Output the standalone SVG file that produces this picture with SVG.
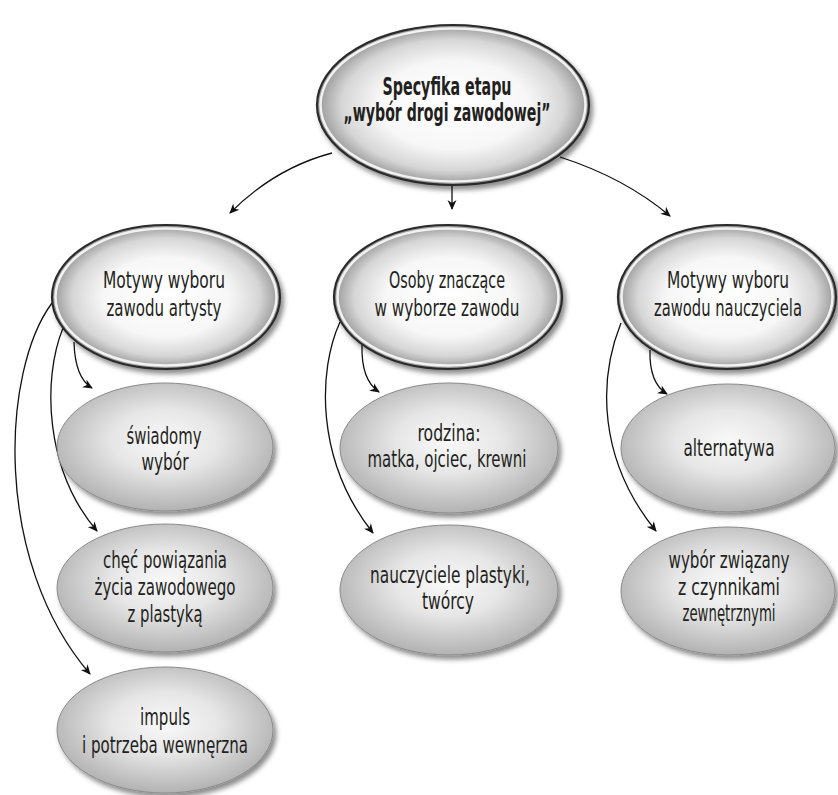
<svg xmlns="http://www.w3.org/2000/svg" width="838" height="795" viewBox="0 0 838 795">
<defs>
  <radialGradient id="g1" cx="50%" cy="50%" r="50%">
    <stop offset="0%" stop-color="#ffffff"/>
    <stop offset="55%" stop-color="#f7f7f7"/>
    <stop offset="82%" stop-color="#d6d6d6"/>
    <stop offset="100%" stop-color="#969696"/>
  </radialGradient>
  <radialGradient id="g2" cx="50%" cy="45%" r="55%">
    <stop offset="0%" stop-color="#f9f9f9"/>
    <stop offset="45%" stop-color="#e6e6e6"/>
    <stop offset="100%" stop-color="#b2b2b2"/>
  </radialGradient>
  <filter id="sh" x="-10%" y="-10%" width="125%" height="130%">
    <feDropShadow dx="3" dy="4" stdDeviation="2.5" flood-color="#000" flood-opacity="0.45"/>
  </filter>
  <marker id="ar" viewBox="0 0 10 10" refX="9" refY="5" markerWidth="10" markerHeight="10" markerUnits="userSpaceOnUse" orient="auto">
    <path d="M0,0.5 L10,5 L0,9.5 L3,5 z" fill="#111"/>
  </marker>
  <style>
    .main{fill:url(#g1);stroke:#2b2b2b;stroke-width:2.2;filter:url(#sh)}
    .rim{fill:none;stroke:#f2f2f2;stroke-width:2.5}
    .sub{fill:url(#g2);stroke:#8a8a8a;stroke-width:1;filter:url(#sh)}
    text{font-family:"Liberation Sans Narrow","DejaVu Sans Condensed","Liberation Sans",sans-serif;fill:#231f20;text-anchor:middle;font-size:23px}
    .b{font-weight:bold;font-size:24px}
    .c path{fill:none;stroke:#111;stroke-width:1.3;marker-end:url(#ar)}
  </style>
</defs>

<g id="connectors" class="c">
  <path d="M332,153 Q275,168 230,213"/>
  <path d="M452,186 L452,209"/>
  <path d="M560,157 Q625,178 670,216"/>
  <path d="M74,342 Q75,378 92,388"/>
  <path d="M63,328 C42,380 45,470 97,531"/>
  <path d="M52,303 C2,370 -8,560 90,674"/>
  <path d="M362,345 Q361,380 379,392"/>
  <path d="M340,322 C318,370 315,460 373,533"/>
  <path d="M650,350 Q649,383 667,394"/>
  <path d="M621,323 C598,380 598,460 656,531"/>
</g>

<g id="n-top">
  <ellipse class="main" cx="453" cy="105" rx="136" ry="80"/>
  <ellipse class="rim" cx="453" cy="105" rx="132.5" ry="76.5"/>
  <text class="b" x="447" y="95" textLength="129" lengthAdjust="spacingAndGlyphs">Specyfika etapu</text>
  <text class="b" x="447" y="121" textLength="207" lengthAdjust="spacingAndGlyphs">„wybór drogi zawodowej”</text>
</g>

<g id="n-artysty">
  <ellipse class="main" cx="166" cy="297" rx="114" ry="72"/>
  <ellipse class="rim" cx="166" cy="297" rx="110.5" ry="68.5"/>
  <text x="164" y="288" textLength="122" lengthAdjust="spacingAndGlyphs">Motywy wyboru</text>
  <text x="164" y="316" textLength="115" lengthAdjust="spacingAndGlyphs">zawodu artysty</text>
</g>

<g id="n-osoby">
  <ellipse class="main" cx="448" cy="297" rx="114" ry="72"/>
  <ellipse class="rim" cx="448" cy="297" rx="110.5" ry="68.5"/>
  <text x="447" y="288" textLength="116" lengthAdjust="spacingAndGlyphs">Osoby znaczące</text>
  <text x="447" y="316" textLength="145" lengthAdjust="spacingAndGlyphs">w wyborze zawodu</text>
</g>

<g id="n-nauczyciela">
  <ellipse class="main" cx="727" cy="297" rx="109" ry="72"/>
  <ellipse class="rim" cx="727" cy="297" rx="105.5" ry="68.5"/>
  <text x="728" y="288" textLength="122" lengthAdjust="spacingAndGlyphs">Motywy wyboru</text>
  <text x="728" y="316" textLength="148" lengthAdjust="spacingAndGlyphs">zawodu nauczyciela</text>
</g>

<g id="n-swiadomy">
  <ellipse class="sub" cx="165" cy="447" rx="108" ry="64"/>
  <text x="164" y="444" textLength="75" lengthAdjust="spacingAndGlyphs">świadomy</text>
  <text x="165" y="470" textLength="47" lengthAdjust="spacingAndGlyphs">wybór</text>
</g>

<g id="n-chec">
  <ellipse class="sub" cx="165" cy="588" rx="108" ry="64"/>
  <text x="165" y="568" textLength="124" lengthAdjust="spacingAndGlyphs">chęć powiązania</text>
  <text x="165" y="595" textLength="141" lengthAdjust="spacingAndGlyphs">życia zawodowego</text>
  <text x="165" y="622" textLength="75" lengthAdjust="spacingAndGlyphs">z plastyką</text>
</g>

<g id="n-impuls">
  <ellipse class="sub" cx="165" cy="730" rx="108" ry="63"/>
  <text x="165" y="725" textLength="50" lengthAdjust="spacingAndGlyphs">impuls</text>
  <text x="165" y="753" textLength="166" lengthAdjust="spacingAndGlyphs">i potrzeba wewnęrzna</text>
</g>

<g id="n-rodzina">
  <ellipse class="sub" cx="449" cy="448" rx="109" ry="65"/>
  <text x="449" y="441" textLength="63" lengthAdjust="spacingAndGlyphs">rodzina:</text>
  <text x="447" y="467" textLength="159" lengthAdjust="spacingAndGlyphs">matka, ojciec, krewni</text>
</g>

<g id="n-nauczyciele">
  <ellipse class="sub" cx="449" cy="590" rx="109" ry="65"/>
  <text x="450" y="583" textLength="160" lengthAdjust="spacingAndGlyphs">nauczyciele plastyki,</text>
  <text x="448" y="609" textLength="52" lengthAdjust="spacingAndGlyphs">twórcy</text>
</g>

<g id="n-alternatywa">
  <ellipse class="sub" cx="728" cy="448" rx="107" ry="64"/>
  <text x="729" y="456" textLength="91" lengthAdjust="spacingAndGlyphs">alternatywa</text>
</g>

<g id="n-wybor">
  <ellipse class="sub" cx="728" cy="591" rx="107" ry="64"/>
  <text x="729" y="568" textLength="121" lengthAdjust="spacingAndGlyphs">wybór związany</text>
  <text x="729" y="595" textLength="102" lengthAdjust="spacingAndGlyphs">z czynnikami</text>
  <text x="729" y="621" textLength="93" lengthAdjust="spacingAndGlyphs">zewnętrznymi</text>
</g>
</svg>
